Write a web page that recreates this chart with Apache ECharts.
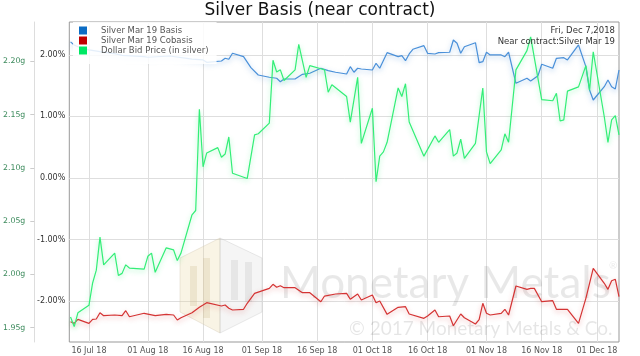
<!DOCTYPE html>
<html>
<head>
<meta charset="utf-8">
<script src="https://cdn.jsdelivr.net/npm/echarts@6/dist/echarts.min.js"></script>
<style>html,body{margin:0;padding:0;background:#fff}#c{width:640px;height:356px}</style>
</head>
<body>
<div id="c"></div>
<script>
// ---- data (2018) ----
const basisDates = ['07-11','07-12','07-13','07-16','07-19','07-23','07-25','07-31','08-01','08-07','08-13','08-16','08-17','08-21','08-22','08-23','08-24','08-27','08-29','08-31','09-03','09-05','09-06','09-07','09-10','09-12','09-14','09-17','09-19','09-21','09-24','09-25','09-26','09-27','09-28','10-01','10-02','10-03','10-05','10-08','10-09','10-10','10-11','10-12','10-15','10-16','10-18','10-19','10-22','10-23','10-24','10-25','10-26','10-29','10-30','10-31','11-01','11-02','11-05','11-06','11-07','11-09','11-12','11-13','11-15','11-16','11-19','11-20','11-22','11-23','11-26','11-28','11-29','11-30','12-03','12-04','12-05','12-06','12-07'];
const basisValues = [2.21,2.16,2.13,2.08,2.05,2.02,1.99,1.97,1.96,1.98,1.93,1.916,1.878,1.899,1.943,1.927,2.024,1.969,1.791,1.672,1.635,1.619,1.563,1.607,1.607,1.683,1.700,1.781,1.742,1.716,1.688,1.807,1.716,1.781,1.769,1.753,1.862,1.781,2.034,1.969,1.985,1.904,2.013,2.089,2.148,2.024,2.013,2.034,2.041,2.240,2.187,2.024,2.131,2.196,1.872,1.888,2.041,1.997,1.997,1.969,2.041,1.537,1.619,1.575,1.661,1.846,1.781,1.943,1.953,1.916,2.159,1.807,1.429,1.266,1.482,1.591,1.482,1.445,1.753];

const cobasisDates = ['07-11','07-12','07-13','07-16','07-17','07-18','07-19','07-20','07-23','07-25','07-26','07-27','07-31','08-03','08-06','08-08','08-09','08-10','08-13','08-15','08-16','08-17','08-21','08-22','08-23','08-24','08-27','08-28','08-30','09-03','09-04','09-05','09-06','09-07','09-10','09-12','09-14','09-17','09-18','09-21','09-24','09-25','09-27','09-28','10-01','10-02','10-03','10-05','10-08','10-10','10-11','10-15','10-16','10-18','10-19','10-22','10-23','10-25','10-26','10-29','10-30','10-31','11-01','11-02','11-05','11-06','11-07','11-09','11-12','11-13','11-14','11-16','11-19','11-20','11-23','11-26','11-28','11-30','12-03','12-04','12-05','12-06','12-07'];
const cobasisValues = [-2.333,-2.359,-2.294,-2.359,-2.294,-2.289,-2.187,-2.235,-2.224,-2.235,-2.154,-2.252,-2.196,-2.235,-2.213,-2.224,-2.305,-2.268,-2.187,-2.099,-2.062,-2.024,-2.078,-2.062,-2.115,-2.143,-2.131,-2.034,-1.872,-1.791,-1.726,-1.774,-1.748,-1.781,-1.781,-1.862,-1.862,-2.008,-1.916,-1.883,-1.872,-1.969,-1.883,-1.981,-1.899,-2.024,-1.997,-2.213,-2.099,-2.089,-2.208,-2.278,-2.240,-2.143,-2.252,-2.240,-2.398,-2.208,-2.268,-2.370,-2.300,-2.034,-2.196,-2.224,-2.196,-2.131,-2.224,-1.753,-1.807,-1.791,-1.791,-2.008,-1.992,-2.131,-2.131,-2.359,-1.953,-1.466,-1.709,-1.807,-1.667,-1.644,-1.927];

const priceDates = ['07-11','07-12','07-13','07-16','07-17','07-18','07-19','07-20','07-23','07-24','07-25','07-26','07-27','07-31','08-01','08-02','08-03','08-06','08-08','08-09','08-10','08-13','08-14','08-15','08-16','08-17','08-20','08-21','08-22','08-23','08-24','08-28','08-30','08-31','09-03','09-04','09-05','09-06','09-07','09-10','09-11','09-13','09-14','09-17','09-18','09-19','09-20','09-24','09-25','09-27','09-28','10-01','10-02','10-03','10-04','10-05','10-08','10-09','10-10','10-11','10-15','10-18','10-19','10-22','10-23','10-24','10-25','10-26','10-29','10-31','11-01','11-02','11-05','11-06','11-07','11-09','11-12','11-13','11-16','11-19','11-20','11-21','11-22','11-23','11-26','11-28','11-29','11-30','12-03','12-04','12-05','12-06','12-07'];
const priceValues = [1.960,1.951,1.964,1.971,1.992,2.004,2.035,2.009,2.020,1.999,2.001,2.009,2.006,2.005,2.017,2.020,2.002,2.025,2.023,2.013,2.020,2.056,2.060,2.155,2.101,2.114,2.119,2.110,2.113,2.129,2.095,2.090,2.131,2.132,2.142,2.201,2.190,2.192,2.182,2.192,2.216,2.185,2.196,2.193,2.192,2.171,2.178,2.167,2.143,2.185,2.123,2.156,2.087,2.111,2.115,2.124,2.175,2.167,2.179,2.143,2.111,2.130,2.124,2.136,2.111,2.114,2.127,2.109,2.123,2.175,2.115,2.104,2.117,2.132,2.124,2.192,2.210,2.223,2.164,2.163,2.170,2.144,2.145,2.172,2.176,2.196,2.173,2.209,2.148,2.124,2.145,2.149,2.131];

const xTickDates = ['07-16','08-01','08-16','09-01','09-16','10-01','10-16','11-01','11-16','12-01'];
const xTickLabels = ['16 Jul 18','01 Aug 18','16 Aug 18','01 Sep 18','16 Sep 18','01 Oct 18','16 Oct 18','01 Nov 18','16 Nov 18','01 Dec 18'];
const pctTicks = [-2, -1, 0, 1, 2];
const gramTicks = [1.95, 2.00, 2.05, 2.10, 2.15, 2.20];
const seriesNames = ['Silver Mar 19 Basis', 'Silver Mar 19 Cobasis', 'Dollar Bid Price (in silver)'];

// ---- build ----
function ts(md) { const p = md.split('-'); return Date.UTC(2018, +p[0] - 1, +p[1]); }
function pairs(dates, vals) { return dates.map((d, i) => [ts(d), vals[i]]); }
const tickTs = xTickDates.map(ts);
const FONT = 'DejaVu Sans';

function lineSeries(name, data, color, iconColor, glow, yIdx) {
  return {
    name, type: 'line', data, yAxisIndex: yIdx, showSymbol: false, symbol: 'none',
    itemStyle: { color: iconColor },
    lineStyle: { color, width: 1.2, shadowColor: glow, shadowBlur: 5, shadowOffsetY: 2 },
    emphasis: { disabled: true }, animation: false
  };
}

const chart = echarts.init(document.getElementById('c'), null, { renderer: 'canvas' });
chart.setOption({
  animation: false,
  backgroundColor: '#fff',
  title: {
    text: 'Silver Basis (near contract)', left: 'center', top: -3,
    textStyle: { fontFamily: FONT, fontSize: 17, fontWeight: 'normal', color: '#111' }
  },
  grid: { left: 66, right: 21, top: 22, bottom: 14, show: true, borderColor: '#999', borderWidth: 1, backgroundColor: 'transparent' },
  legend: {
    orient: 'vertical', left: 73, top: 22, icon: 'rect', itemWidth: 8, itemHeight: 8, itemGap: 1,
    padding: [4, 8, 9, 6], backgroundColor: 'rgba(255,255,255,0.85)',
    data: seriesNames,
    textStyle: { fontFamily: FONT, fontSize: 8.5, color: '#555', padding: [0, 0, 0, 9] }
  },
  xAxis: {
    type: 'value', min: Date.UTC(2018, 6, 10, 16), max: Date.UTC(2018, 11, 7),
    axisLine: { show: false }, axisTick: { show: false, customValues: tickTs },
    axisLabel: {
      customValues: tickTs, fontFamily: FONT, fontSize: 8, color: '#555', margin: 5,
      formatter: v => { const i = tickTs.indexOf(v); return i >= 0 ? xTickLabels[i] : ''; }
    },
    splitLine: { show: true, lineStyle: { color: '#dedede', width: 1 } }
  },
  yAxis: [
    {
      type: 'value', position: 'left', min: -2.662, max: 2.532,
      axisLine: { show: false }, axisTick: { show: false, customValues: pctTicks },
      axisLabel: { customValues: pctTicks, fontFamily: FONT, fontSize: 8, color: '#333', margin: 4,
        formatter: v => v.toFixed(2) + '%' },
      splitLine: { show: true, lineStyle: { color: '#dedede', width: 1 } }
    },
    {
      type: 'value', position: 'left', offset: 35, min: 1.9366, max: 2.2369,
      axisLine: { show: true, lineStyle: { color: '#ddd' } },
      axisTick: { show: true, length: 4, customValues: gramTicks, lineStyle: { color: '#ccc' } },
      axisLabel: { customValues: gramTicks, fontFamily: FONT, fontSize: 7.8, color: '#3c8a5c', margin: 9,
        formatter: v => v.toFixed(2) + 'g' },
      splitLine: { show: false }
    }
  ],
  graphic: [
    { type: 'polygon', z: 1, silent: true, shape: { points: [[220,238],[180,258],[180,312],[220,333]] }, style: { fill: 'rgba(232,210,150,0.25)', stroke: 'rgba(210,200,180,0.4)', lineWidth: 1 } },
    { type: 'polygon', z: 1, silent: true, shape: { points: [[220,238],[262,258],[262,312],[220,333]] }, style: { fill: 'rgba(200,200,200,0.18)', stroke: 'rgba(200,200,200,0.4)', lineWidth: 1 } },
    { type: 'rect', z: 1, silent: true, shape: { x: 190, y: 266, width: 7, height: 40 }, style: { fill: 'rgba(205,185,140,0.25)' } },
    { type: 'rect', z: 1, silent: true, shape: { x: 203, y: 258, width: 7, height: 60 }, style: { fill: 'rgba(205,185,140,0.25)' } },
    { type: 'rect', z: 1, silent: true, shape: { x: 231, y: 260, width: 7, height: 40 }, style: { fill: 'rgba(170,170,170,0.2)' } },
    { type: 'rect', z: 1, silent: true, shape: { x: 245, y: 262, width: 7, height: 40 }, style: { fill: 'rgba(170,170,170,0.2)' } },
    { type: 'text', z: 1, silent: true, style: { x: 280, y: 284, text: 'Monetary Metals', font: '44px Lato', fill: 'rgba(0,0,0,0.09)', verticalAlign: 'middle' } },
    { type: 'text', z: 1, silent: true, style: { x: 609, y: 266, text: '®', font: '10px Lato', fill: 'rgba(0,0,0,0.09)', verticalAlign: 'middle' } },
    { type: 'text', z: 1, silent: true, style: { x: 349, y: 329, text: '© 2017 Monetary Metals & Co.', font: '19px Lato', fill: 'rgba(0,0,0,0.10)', verticalAlign: 'middle' } },
    { type: 'text', z: 10, silent: true, style: { x: 615, y: 31, text: 'Fri, Dec 7,2018', font: '8.5px "DejaVu Sans"', fill: '#333', align: 'right', verticalAlign: 'middle' } },
    { type: 'text', z: 10, silent: true, style: { x: 615, y: 42, text: 'Near contract:Silver Mar 19', font: '8.5px "DejaVu Sans"', fill: '#333', align: 'right', verticalAlign: 'middle' } }
  ],
  series: [
    lineSeries(seriesNames[0], pairs(basisDates, basisValues), '#4a90d9', '#0b6cc4', 'rgba(74,144,217,0.5)', 0),
    lineSeries(seriesNames[1], pairs(cobasisDates, cobasisValues), '#d43434', '#c00000', 'rgba(212,52,52,0.4)', 0),
    lineSeries(seriesNames[2], pairs(priceDates, priceValues), '#33ee77', '#00e864', 'rgba(51,238,119,0.45)', 1)
  ]
});
</script>
</body>
</html>
